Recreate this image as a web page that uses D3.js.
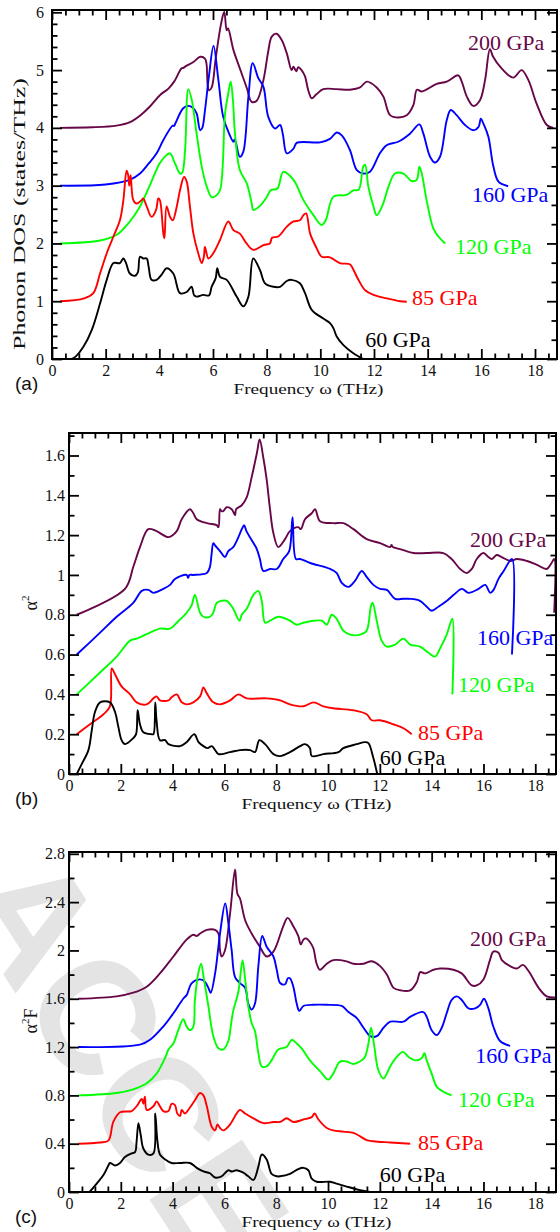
<!DOCTYPE html>
<html>
<head>
<meta charset="utf-8">
<script src="https://cdn.jsdelivr.net/npm/d3@7"></script>
<style>
  body { margin: 0; background: #fff; }
  svg { display: block; }
</style>
</head>
<body>
<svg width="560" height="1232"></svg>
<script>
/* Phonon DOS, alpha^2 and alpha^2F at five pressures (curves offset vertically) */

const pressures = ["200 GPa", "160 GPa", "120 GPa", "85 GPa", "60 GPa"];
const colors = ["#670748", "#0000ff", "#00ff00", "#ff0000", "#000000"];

const xTicks = [0, 2, 4, 6, 8, 10, 12, 14, 16, 18];
const yTicksA = [0, 1, 2, 3, 4, 5, 6];
const yTicksB = [0, 0.2, 0.4, 0.6, 0.8, 1, 1.2, 1.4, 1.6];
const yTicksC = [0, 0.4, 0.8, 1.2, 1.6, 2, 2.4, 2.8];

// (a) phonon DOS, [frequency THz, states/THz + offset]
const dos200 = [[0.3,4.0],[1.5,4.01],[2.4,4.04],[2.91,4.1],[3.3,4.22],[3.65,4.37],[4.03,4.57],[4.34,4.68],[4.55,4.8],[4.83,5.03],[4.9,5.04],[4.96,5.06],[5.27,5.14],[5.52,5.23],[5.7,5.2],[5.76,5.1],[5.8,4.75],[5.85,4.65],[5.95,4.7],[6.1,5.2],[6.3,5.8],[6.42,6.01],[6.51,5.69],[6.56,5.72],[6.76,5.35],[7.0,5.03],[7.26,4.69],[7.44,4.45],[7.63,4.47],[7.88,4.83],[8.05,5.3],[8.19,5.58],[8.37,5.63],[8.56,5.52],[8.75,5.29],[8.93,5.0],[9.0,5.06],[9.1,4.98],[9.18,5.05],[9.3,5.0],[9.43,4.89],[9.55,4.65],[9.68,4.51],[9.85,4.58],[10.11,4.67],[10.6,4.67],[11.1,4.66],[11.48,4.7],[11.73,4.8],[12.1,4.7],[12.35,4.54],[12.6,4.22],[12.9,4.18],[13.22,4.22],[13.47,4.4],[13.6,4.66],[13.78,4.63],[14.34,4.76],[14.71,4.8],[15.14,4.91],[15.27,4.8],[15.46,4.54],[15.7,4.38],[15.95,4.48],[16.14,4.83],[16.32,5.36],[16.44,5.23],[16.7,5.06],[17.19,4.87],[17.5,5.0],[17.75,4.83],[18.06,4.42],[18.44,4.05],[18.68,4.0]];
const dos160 = [[0.3,3.0],[2.0,3.02],[2.9,3.1],[3.28,3.21],[3.6,3.38],[3.9,3.56],[4.15,3.79],[4.5,4.04],[4.55,4.03],[4.6,4.08],[4.89,4.34],[5.08,4.38],[5.25,4.35],[5.39,4.25],[5.52,3.96],[5.6,4.0],[5.7,4.3],[5.85,4.9],[6.02,5.42],[6.2,4.83],[6.38,4.19],[6.6,3.9],[6.76,3.76],[6.8,3.8],[6.85,3.75],[7.0,3.5],[7.13,3.59],[7.32,4.54],[7.48,5.12],[7.69,4.86],[7.88,4.71],[8.06,4.19],[8.31,3.99],[8.5,4.05],[8.6,3.9],[8.75,3.56],[9.0,3.64],[9.12,3.74],[9.99,3.75],[10.36,3.81],[10.61,3.92],[10.8,3.87],[11.1,3.62],[11.36,3.27],[11.6,3.21],[11.85,3.24],[12.22,3.56],[12.47,3.7],[12.9,3.76],[13.34,3.9],[13.69,4.06],[13.84,3.9],[14.09,3.5],[14.27,3.4],[14.46,3.5],[14.71,4.13],[14.86,4.31],[15.08,4.22],[15.39,4.05],[15.7,3.96],[15.9,4.02],[15.98,4.16],[16.08,4.07],[16.26,3.85],[16.45,3.33],[16.64,3.07],[17.0,2.99]];
const dos120 = [[0.3,2.0],[1.79,2.05],[2.41,2.15],[2.9,2.38],[3.28,2.64],[3.65,3.01],[4.02,3.39],[4.25,3.52],[4.4,3.56],[4.58,3.39],[4.77,3.21],[4.85,3.22],[4.96,3.62],[5.08,4.67],[5.21,4.48],[5.39,3.9],[5.58,3.33],[5.77,2.98],[5.95,2.8],[6.1,2.82],[6.26,2.92],[6.45,4.25],[6.57,4.6],[6.66,4.8],[6.74,4.5],[6.82,3.9],[7.0,3.27],[7.26,3.04],[7.44,2.7],[7.5,2.58],[7.75,2.65],[8.0,2.8],[8.15,2.92],[8.4,2.95],[8.62,3.24],[9.0,3.1],[9.37,2.75],[9.74,2.49],[10.05,2.32],[10.2,2.4],[10.49,2.81],[10.98,2.84],[11.23,2.92],[11.43,2.93],[11.6,3.33],[11.67,3.36],[11.79,2.98],[11.98,2.64],[12.1,2.49],[12.3,2.64],[12.54,2.98],[12.78,3.21],[13.1,3.21],[13.4,3.08],[13.59,3.1],[13.69,3.33],[13.78,3.21],[13.96,2.75],[14.21,2.26],[14.4,2.12],[14.65,2.0]];
const dos85 = [[0.3,1.0],[1.2,1.05],[1.54,1.14],[1.79,1.48],[2.04,1.83],[2.29,2.12],[2.53,2.4],[2.66,2.75],[2.78,3.26],[2.84,3.18],[2.88,3.0],[2.93,3.18],[3.03,2.75],[3.16,2.69],[3.34,2.75],[3.4,2.78],[3.53,2.64],[3.71,2.46],[3.88,2.58],[3.96,2.78],[4.02,2.75],[4.15,2.17],[4.19,2.09],[4.27,2.64],[4.4,2.46],[4.5,2.4],[4.65,2.64],[4.77,2.92],[4.92,3.15],[5.02,3.07],[5.14,2.64],[5.27,2.17],[5.45,1.83],[5.58,1.66],[5.66,1.77],[5.7,1.94],[5.83,1.74],[6.01,1.83],[6.26,2.06],[6.57,2.38],[6.76,2.23],[7.0,2.17],[7.25,2.0],[7.5,1.89],[7.88,1.97],[8.12,2.0],[8.2,2.1],[8.43,2.12],[8.75,2.29],[9.0,2.38],[9.24,2.4],[9.37,2.49],[9.47,2.52],[9.62,2.17],[9.86,1.92],[10.05,1.77],[10.36,1.76],[10.73,1.66],[11.1,1.64],[11.17,1.6],[11.42,1.37],[11.67,1.19],[11.98,1.11],[12.47,1.05],[12.97,1.0],[13.22,0.99]];
const dos60 = [[0.6,0.0],[0.73,0.0],[0.9,0.05],[1.17,0.21],[1.48,0.5],[1.79,0.96],[2.04,1.37],[2.29,1.66],[2.53,1.66],[2.66,1.74],[2.76,1.66],[2.9,1.48],[3.09,1.44],[3.2,1.5],[3.28,1.77],[3.4,1.74],[3.53,1.74],[3.6,1.6],[3.71,1.37],[3.9,1.37],[4.1,1.47],[4.27,1.57],[4.52,1.48],[4.77,1.14],[5.02,1.16],[5.2,1.25],[5.3,1.1],[5.39,1.08],[5.64,1.11],[5.85,1.1],[5.95,1.25],[6.1,1.4],[6.16,1.57],[6.26,1.42],[6.51,1.37],[6.88,1.08],[7.13,0.91],[7.32,1.08],[7.5,1.74],[7.75,1.54],[7.94,1.31],[8.25,1.25],[8.5,1.25],[8.75,1.35],[8.93,1.37],[9.24,1.31],[9.43,1.14],[9.68,0.85],[10.11,0.7],[10.36,0.62],[10.49,0.53],[10.61,0.39],[10.86,0.24],[11.23,0.1],[11.6,0.0]];

// (b) alpha^2
const a2_200 = [[0.3,0.8],[2.16,0.93],[2.48,1.04],[2.74,1.14],[3.06,1.23],[3.38,1.22],[3.84,1.19],[4.16,1.22],[4.35,1.28],[4.67,1.33],[4.8,1.31],[4.93,1.28],[5.32,1.26],[5.7,1.25],[5.77,1.24],[5.83,1.33],[5.89,1.32],[5.95,1.32],[6.09,1.34],[6.28,1.33],[6.41,1.3],[6.45,1.33],[6.67,1.35],[6.86,1.39],[7.05,1.49],[7.25,1.61],[7.36,1.68],[7.5,1.59],[7.63,1.48],[7.76,1.33],[7.89,1.21],[8.08,1.14],[8.34,1.18],[8.53,1.22],[8.85,1.24],[8.95,1.23],[9.11,1.28],[9.37,1.31],[9.5,1.33],[9.69,1.27],[10.2,1.26],[10.59,1.26],[10.98,1.23],[11.49,1.18],[12.01,1.16],[12.4,1.14],[12.45,1.15],[12.5,1.14],[12.78,1.13],[13.29,1.11],[13.81,1.11],[14.45,1.11],[14.77,1.08],[15.1,1.03],[15.35,1.01],[15.55,1.03],[15.74,1.08],[16.0,1.11],[16.19,1.09],[16.32,1.08],[16.51,1.1],[16.7,1.09],[17.03,1.07],[17.29,1.08],[17.68,1.07],[18.07,1.05],[18.44,1.03],[18.63,1.06],[18.73,1.08],[18.73,0.81]];
const a2_160 = [[0.3,0.6],[1.2,0.71],[1.84,0.79],[2.48,0.86],[2.81,0.92],[3.06,0.925],[3.26,0.91],[3.64,0.93],[3.9,0.95],[4.09,0.98],[4.54,1.0],[4.6,0.985],[4.65,1.0],[4.8,1.0],[5.32,1.01],[5.44,1.04],[5.5,1.1],[5.57,1.16],[5.63,1.15],[5.83,1.12],[6.02,1.09],[6.15,1.12],[6.34,1.14],[6.54,1.19],[6.67,1.23],[6.76,1.25],[6.85,1.22],[7.12,1.16],[7.25,1.13],[7.37,1.08],[7.5,1.02],[7.76,1.03],[8.02,1.03],[8.27,1.08],[8.5,1.12],[8.63,1.29],[8.76,1.08],[8.92,1.08],[9.31,1.06],[10.08,1.03],[10.33,1.01],[10.53,0.96],[10.79,0.94],[11.04,0.97],[11.3,1.02],[11.49,0.99],[11.75,0.95],[12.01,0.93],[12.27,0.925],[12.59,0.88],[12.91,0.88],[13.17,0.88],[13.55,0.87],[13.81,0.84],[14.0,0.82],[14.26,0.84],[14.59,0.87],[14.85,0.9],[15.17,0.93],[15.42,0.91],[15.81,0.93],[16.07,0.95],[16.26,0.91],[16.39,0.925],[16.58,0.98],[16.78,1.02],[17.1,1.08],[17.1,0.6]];
const a2_120 = [[0.3,0.4],[1.2,0.51],[1.84,0.59],[2.36,0.67],[2.61,0.68],[3.13,0.71],[3.51,0.73],[3.9,0.73],[4.16,0.76],[4.54,0.81],[4.74,0.85],[4.86,0.9],[5.06,0.81],[5.19,0.79],[5.44,0.79],[5.57,0.81],[5.7,0.86],[5.89,0.87],[6.09,0.87],[6.34,0.83],[6.58,0.77],[6.67,0.8],[6.86,0.83],[7.12,0.9],[7.31,0.92],[7.44,0.87],[7.57,0.76],[7.76,0.77],[8.08,0.79],[8.53,0.77],[8.79,0.75],[9.05,0.76],[9.44,0.77],[9.76,0.77],[9.95,0.75],[10.14,0.8],[10.33,0.78],[10.59,0.72],[10.85,0.7],[11.24,0.7],[11.49,0.72],[11.65,0.84],[11.72,0.86],[11.88,0.77],[12.07,0.67],[12.27,0.64],[12.59,0.65],[12.91,0.68],[13.17,0.65],[13.55,0.64],[13.87,0.61],[14.13,0.59],[14.32,0.63],[14.58,0.7],[14.8,0.78],[14.8,0.4]];
const a2_85 = [[0.3,0.2],[0.81,0.25],[1.33,0.3],[1.58,0.34],[1.65,0.53],[1.78,0.5],[2.03,0.44],[2.36,0.4],[2.61,0.36],[3.0,0.35],[3.26,0.38],[3.38,0.39],[3.51,0.37],[3.84,0.37],[3.96,0.385],[4.16,0.4],[4.35,0.36],[4.54,0.35],[4.8,0.36],[5.06,0.39],[5.19,0.435],[5.32,0.405],[5.57,0.36],[5.83,0.35],[6.22,0.37],[6.54,0.4],[6.86,0.38],[7.63,0.38],[8.15,0.37],[8.53,0.35],[9.05,0.34],[9.44,0.36],[9.82,0.34],[10.2,0.33],[10.98,0.32],[11.49,0.3],[11.69,0.27],[12.01,0.27],[12.52,0.25],[12.91,0.23],[13.23,0.2]];
const a2_60 = [[0.3,0.0],[0.49,0.05],[0.75,0.12],[0.88,0.22],[1.0,0.31],[1.2,0.36],[1.58,0.36],[1.78,0.31],[1.9,0.24],[2.03,0.17],[2.16,0.15],[2.48,0.18],[2.59,0.2],[2.65,0.32],[2.74,0.25],[2.87,0.21],[3.19,0.2],[3.26,0.2],[3.33,0.36],[3.38,0.27],[3.51,0.17],[3.71,0.17],[3.84,0.15],[4.29,0.14],[4.54,0.16],[4.84,0.2],[5.0,0.16],[5.19,0.14],[5.35,0.13],[5.51,0.14],[5.64,0.12],[5.77,0.1],[6.22,0.11],[6.6,0.12],[6.99,0.12],[7.18,0.11],[7.35,0.17],[7.57,0.15],[7.89,0.1],[8.15,0.09],[8.53,0.11],[8.92,0.14],[9.11,0.15],[9.3,0.13],[9.37,0.09],[9.82,0.1],[10.4,0.11],[10.59,0.13],[11.11,0.15],[11.43,0.16],[11.56,0.155],[11.75,0.08],[11.9,0.0]];

// (c) alpha^2 F
const a2F_200 = [[0.36,1.6],[1.84,1.62],[2.48,1.65],[3.0,1.7],[3.51,1.81],[4.03,1.95],[4.54,2.09],[4.8,2.13],[4.93,2.12],[5.06,2.14],[5.32,2.17],[5.64,2.17],[5.77,2.14],[5.83,2.0],[5.89,1.95],[6.02,2.0],[6.22,2.31],[6.41,2.67],[6.5,2.47],[6.6,2.43],[6.8,2.25],[7.05,2.14],[7.25,2.07],[7.37,2.03],[7.5,1.98],[7.63,1.95],[7.89,1.99],[8.27,2.2],[8.44,2.27],[8.66,2.2],[8.85,2.12],[8.95,2.05],[9.05,2.09],[9.15,2.1],[9.3,2.07],[9.43,2.02],[9.56,1.89],[9.69,1.84],[9.95,1.89],[10.2,1.92],[10.72,1.91],[10.98,1.89],[11.37,1.89],[11.69,1.91],[12.01,1.87],[12.27,1.8],[12.53,1.69],[12.79,1.67],[13.17,1.67],[13.43,1.74],[13.56,1.82],[13.75,1.81],[14.07,1.84],[14.33,1.85],[14.84,1.84],[15.16,1.81],[15.55,1.71],[15.74,1.71],[16.0,1.76],[16.25,1.92],[16.38,1.99],[16.58,1.98],[16.71,1.92],[17.03,1.87],[17.29,1.85],[17.52,1.88],[17.74,1.83],[18.13,1.69],[18.44,1.62],[18.76,1.61]];
const a2F_160 = [[0.36,1.2],[2.74,1.22],[3.13,1.26],[3.64,1.37],[4.03,1.48],[4.41,1.6],[4.54,1.63],[4.74,1.73],[5.06,1.76],[5.25,1.74],[5.38,1.69],[5.47,1.65],[5.64,1.81],[5.83,2.14],[6.03,2.39],[6.15,2.23],[6.28,2.0],[6.41,1.78],[6.6,1.73],[6.8,1.69],[6.92,1.56],[7.05,1.51],[7.18,1.56],[7.31,1.87],[7.46,2.12],[7.63,2.03],[7.89,1.95],[8.02,1.84],[8.15,1.73],[8.34,1.72],[8.45,1.77],[8.53,1.77],[8.66,1.7],[8.79,1.56],[8.89,1.5],[9.05,1.54],[9.43,1.55],[9.95,1.55],[10.53,1.54],[10.79,1.49],[11.11,1.44],[11.37,1.36],[11.63,1.29],[11.88,1.29],[12.14,1.36],[12.4,1.41],[12.91,1.41],[13.17,1.45],[13.68,1.49],[13.81,1.45],[14.0,1.34],[14.2,1.3],[14.39,1.36],[14.58,1.48],[14.77,1.59],[14.97,1.62],[15.16,1.59],[15.42,1.52],[15.68,1.52],[15.87,1.55],[16.02,1.6],[16.19,1.52],[16.38,1.37],[16.64,1.25],[17.03,1.21]];
const a2F_120 = [[0.36,0.8],[1.84,0.82],[2.48,0.85],[3.0,0.9],[3.38,0.98],[3.71,1.11],[3.84,1.18],[4.03,1.23],[4.22,1.34],[4.41,1.43],[4.54,1.37],[4.67,1.34],[4.8,1.37],[4.86,1.59],[4.99,1.81],[5.1,1.89],[5.21,1.76],[5.38,1.54],[5.57,1.29],[5.77,1.19],[5.96,1.18],[6.15,1.25],[6.25,1.38],[6.34,1.5],[6.54,1.66],[6.7,1.92],[6.8,1.76],[6.92,1.54],[7.05,1.4],[7.18,1.33],[7.31,1.15],[7.44,1.04],[7.63,1.04],[7.82,1.09],[8.08,1.18],[8.4,1.2],[8.6,1.26],[8.79,1.23],[8.98,1.19],[9.3,1.09],[9.69,1.0],[10.01,0.93],[10.2,0.98],[10.46,1.08],[10.72,1.08],[10.98,1.06],[11.3,1.09],[11.43,1.12],[11.56,1.23],[11.66,1.36],[11.79,1.2],[11.94,1.01],[12.14,0.94],[12.4,1.04],[12.66,1.12],[12.89,1.16],[13.1,1.12],[13.36,1.09],[13.62,1.11],[13.72,1.15],[13.81,1.09],[14.0,0.98],[14.2,0.87],[14.45,0.83],[14.77,0.8]];
const a2F_85 = [[0.36,0.4],[1.2,0.41],[1.52,0.425],[1.71,0.58],[1.97,0.66],[2.42,0.67],[2.61,0.71],[2.81,0.77],[2.87,0.73],[2.93,0.79],[3.0,0.68],[3.26,0.71],[3.38,0.75],[3.51,0.71],[3.64,0.67],[3.84,0.67],[3.96,0.73],[4.09,0.72],[4.18,0.65],[4.29,0.63],[4.35,0.68],[4.48,0.65],[4.67,0.7],[4.86,0.76],[5.06,0.82],[5.19,0.8],[5.32,0.71],[5.51,0.54],[5.64,0.51],[5.73,0.56],[5.83,0.53],[5.96,0.51],[6.22,0.56],[6.47,0.65],[6.6,0.68],[6.8,0.65],[7.12,0.61],[7.5,0.57],[7.89,0.58],[8.15,0.58],[8.4,0.61],[8.66,0.58],[9.05,0.6],[9.37,0.62],[9.48,0.65],[9.63,0.6],[9.95,0.53],[10.2,0.51],[10.59,0.5],[10.98,0.49],[11.17,0.47],[11.49,0.43],[11.75,0.42],[12.4,0.41],[13.17,0.4]];
const a2F_60 = [[0.79,0.0],[1.07,0.07],[1.33,0.14],[1.52,0.22],[1.58,0.24],[1.78,0.22],[1.97,0.24],[2.16,0.29],[2.42,0.32],[2.55,0.33],[2.61,0.42],[2.68,0.57],[2.77,0.47],[2.87,0.36],[3.06,0.31],[3.26,0.32],[3.33,0.65],[3.41,0.43],[3.51,0.31],[3.71,0.27],[3.96,0.24],[4.29,0.24],[4.67,0.24],[4.93,0.2],[5.19,0.17],[5.44,0.155],[5.64,0.12],[5.89,0.13],[6.15,0.18],[6.28,0.17],[6.47,0.18],[6.73,0.16],[6.92,0.13],[7.12,0.1],[7.31,0.21],[7.44,0.31],[7.63,0.27],[7.82,0.15],[8.02,0.13],[8.15,0.13],[8.53,0.15],[8.85,0.19],[9.05,0.2],[9.24,0.18],[9.37,0.11],[9.56,0.085],[10.08,0.085],[10.33,0.07],[10.72,0.045],[11.24,0.015],[11.62,0.0]];

const serif = "'Liberation Serif', 'Times New Roman', serif";
const sans = "'Liberation Sans', Arial, sans-serif";

const svg = d3.select("svg");

// faint diagonal watermark behind panel (c)
svg.append("text")
  .attr("transform", "translate(-45,900) rotate(57)")
  .attr("font-family", sans).attr("font-weight", "bold")
  .attr("font-size", 160).attr("fill", "#e4e4e4")
  .text("ACCEPTED");

const panels = [
  {
    tag: "(a)", box: {left: 52, right: 557, top: 10, bottom: 359},
    xMax: 18.82, yMax: 6.04, yTicks: yTicksA, minorLeft: 0.2, minorRight: 1 / 3,
    labelPad: 8, series: [dos200, dos160, dos120, dos85, dos60],
    labelAt: [[15.5, 5.35], [15.65, 2.71], [15.02, 1.81], [13.42, 0.94], [11.67, 0.2]],
    ytitle: "Phonon DOS (states/THz)", ytitleAt: [25, 214], ytitleLen: 272,
  },
  {
    tag: "(b)", box: {left: 69, right: 556, top: 433, bottom: 774},
    xMax: 18.8, yMax: 1.713, yTicks: yTicksB, minorLeft: 0.1, minorRight: 0.1,
    labelPad: 4, series: [a2_200, a2_160, a2_120, a2_85, a2_60],
    labelAt: [[15.48, 1.138], [15.75, 0.65], [15.02, 0.41], [13.47, 0.173], [12.0, 0.043]],
    ytitle: "α", sup: "2", ytitleAt: [37, 603],
  },
  {
    tag: "(c)", box: {left: 69, right: 556, top: 852, bottom: 1192},
    xMax: 18.8, yMax: 2.815, yTicks: yTicksC, minorLeft: 0.2, minorRight: 0.2,
    labelPad: 4, series: [a2F_200, a2F_160, a2F_120, a2F_85, a2F_60],
    labelAt: [[15.48, 2.04], [15.68, 1.07], [15.02, 0.70], [13.47, 0.344], [12.0, 0.079]],
    ytitle: "α", sup: "2", tail: "F", ytitleAt: [37, 1021],
  },
];

/** Draw one set of tick marks (and optionally labels) with a d3 axis */
function tickLayer(g, axis, transform, len, labels, pad) {
  axis.tickSize(-len).tickPadding(pad || 0);
  if (!labels) axis.tickFormat("");
  const t = g.append("g").attr("transform", transform).call(axis);
  t.select(".domain").remove();
  t.selectAll(".tick line").attr("stroke", "#000").attr("stroke-width", 1.8);
  t.selectAll("text").attr("font-family", serif).attr("font-size", 16)
    .attr("fill", "#111");
  return t;
}

function drawPanel(p) {
  const b = p.box;
  const x = d3.scaleLinear().domain([0, p.xMax]).range([b.left, b.right]);
  const y = d3.scaleLinear().domain([0, p.yMax]).range([b.bottom, b.top]);
  const g = svg.append("g");

  const line = d3.line()
    .curve(d3.curveCatmullRom.alpha(0.5))
    .x((d) => x(d[0])).y((d) => y(d[1]));

  p.series.forEach((s, i) => {
    g.append("path")
      .datum(s)
      .attr("fill", "none")
      .attr("stroke", colors[i])
      .attr("stroke-width", 1.9)
      .attr("stroke-linejoin", "round")
      .attr("d", line);
    g.append("text")
      .attr("x", x(p.labelAt[i][0])).attr("y", y(p.labelAt[i][1]))
      .attr("font-family", serif).attr("font-size", 22)
      .attr("fill", colors[i])
      .text(pressures[i]);
  });

  // minor / major ticks, all pointing inward
  const xMinor = d3.range(0, p.xMax, 0.5).filter((v) => v % 2 !== 0);
  const yMinorL = d3.range(0, p.yMax, p.minorLeft)
    .filter((v) => !p.yTicks.some((t) => Math.abs(t - v) < 1e-6));
  const yMinorR = d3.range(0, p.yMax, p.minorRight)
    .filter((v) => !p.yTicks.some((t) => Math.abs(t - v) < 1e-6));

  tickLayer(g, d3.axisBottom(x).tickValues(xTicks), `translate(0,${b.bottom})`, 10, true, 6);
  tickLayer(g, d3.axisBottom(x).tickValues(xMinor), `translate(0,${b.bottom})`, 5.5);
  tickLayer(g, d3.axisTop(x).tickValues(xTicks), `translate(0,${b.top})`, 10);
  tickLayer(g, d3.axisTop(x).tickValues(xMinor), `translate(0,${b.top})`, 5.5);
  tickLayer(g, d3.axisLeft(y).tickValues(p.yTicks).tickFormat((d) => String(d)),
    `translate(${b.left},0)`, 10, true, p.labelPad);
  tickLayer(g, d3.axisLeft(y).tickValues(yMinorL), `translate(${b.left},0)`, 5.5);
  tickLayer(g, d3.axisRight(y).tickValues(p.yTicks), `translate(${b.right},0)`, 10);
  tickLayer(g, d3.axisRight(y).tickValues(yMinorR), `translate(${b.right},0)`, 5.5);

  g.append("rect")
    .attr("x", b.left).attr("y", b.top)
    .attr("width", b.right - b.left).attr("height", b.bottom - b.top)
    .attr("fill", "none").attr("stroke", "#000").attr("stroke-width", 2);

  // x title and panel tag
  g.append("text")
    .attr("x", (b.left + b.right) / 2 + 4).attr("y", b.bottom + 35)
    .attr("text-anchor", "middle")
    .attr("font-family", serif).attr("font-size", 15).attr("fill", "#111")
    .attr("textLength", 150).attr("lengthAdjust", "spacingAndGlyphs")
    .text("Frequency ω (THz)");
  g.append("text")
    .attr("x", 15).attr("y", b.bottom + 31)
    .attr("font-family", sans).attr("font-size", 19).attr("fill", "#111")
    .text(p.tag);

  // y title, rotated
  const yt = g.append("text")
    .attr("transform", `translate(${p.ytitleAt[0]},${p.ytitleAt[1]}) rotate(-90)`)
    .attr("text-anchor", "middle")
    .attr("font-family", serif).attr("font-size", 18).attr("fill", "#111");
  if (p.ytitleLen) {
    yt.attr("font-size", 16).attr("textLength", p.ytitleLen)
      .attr("lengthAdjust", "spacingAndGlyphs").text(p.ytitle);
  } else {
    yt.append("tspan").text(p.ytitle);
    yt.append("tspan").attr("dy", -8).attr("font-size", 11).text(p.sup);
    if (p.tail) yt.append("tspan").attr("dy", 8).text(p.tail);
  }
}

panels.forEach(drawPanel);
</script>
</body>
</html>
